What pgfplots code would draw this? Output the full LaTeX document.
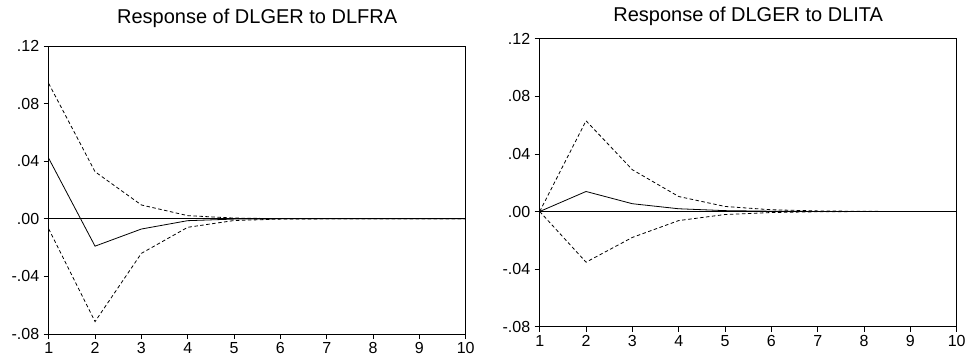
\documentclass[border=0pt]{standalone}
\usepackage{pgfplots}
\pgfplotsset{compat=1.18}
\usepackage{fontspec}
\setmainfont{Liberation Sans}
\begin{document}
\begin{tikzpicture}[x=1pt,y=1pt]
\path[use as bounding box] (0,0) rectangle (968,361);
\pgfplotsset{
  irf/.style={
    scale only axis, width=417pt, height=288pt,
    xmin=1, xmax=10, ymin=-0.08, ymax=0.12,
    xtick={1,...,10},
    ytick={-0.08,-0.04,0,0.04,0.08,0.12},
    yticklabels={-.08,-.04,.00,.04,.08,.12},
    tick align=outside, tickwidth=5pt,
    xtick pos=bottom, ytick pos=left,
    tick style={black, line width=0.6pt},
    axis line style={line width=0.8pt},
    ticklabel style={font=\fontsize{16}{18}\selectfont},
    /pgf/number format/assume math mode=true,
    xticklabel style={yshift=0pt},
    yticklabel style={xshift=-1pt},
    clip=false,
  },
  irfline/.style={black, line width=0.8pt, mark=none},
  irfband/.style={black, line width=0.8pt, mark=none, dash pattern=on 3.5pt off 2.5pt},
}
\begin{axis}[irf, at={(48.7pt,27pt)}, anchor=south west]
\addplot[black, line width=0.6pt] coordinates {(1,0) (10,0)};
\addplot[irfband] coordinates {(1,0.094) (2,0.0327) (3,0.0096) (4,0.0022) (5,0.0005) (6,0.0001) (7,0) (8,0) (9,0) (10,0)};
\addplot[irfband] coordinates {(1,-0.007) (2,-0.0714) (3,-0.024) (4,-0.0059) (5,-0.0012) (6,-0.0002) (7,0) (8,0) (9,0) (10,0)};
\addplot[irfline] coordinates {(1,0.042) (2,-0.019) (3,-0.0071) (4,-0.0013) (5,-0.0002) (6,0) (7,0) (8,0) (9,0) (10,0)};
\node[font=\fontsize{20}{22}\selectfont, anchor=base] at (rel axis cs:0.5,1) [yshift=22.5pt] {Response of DLGER to DLFRA};
\end{axis}
\begin{axis}[irf, at={(539.7pt,34.3pt)}, anchor=south west]
\addplot[black, line width=0.6pt] coordinates {(1,0) (10,0)};
\addplot[irfband] coordinates {(1,0) (2,0.063) (3,0.029) (4,0.0104) (5,0.0035) (6,0.0012) (7,0.0004) (8,0.0001) (9,0) (10,0)};
\addplot[irfband] coordinates {(1,0) (2,-0.0352) (3,-0.018) (4,-0.0063) (5,-0.0021) (6,-0.0007) (7,-0.0002) (8,0) (9,0) (10,0)};
\addplot[irfline] coordinates {(1,0) (2,0.0139) (3,0.0054) (4,0.0019) (5,0.0006) (6,0.0002) (7,0) (8,0) (9,0) (10,0)};
\node[font=\fontsize{20}{22}\selectfont, anchor=base] at (rel axis cs:0.5,1) [yshift=17.5pt] {Response of DLGER to DLITA};
\end{axis}
\end{tikzpicture}
\end{document}
